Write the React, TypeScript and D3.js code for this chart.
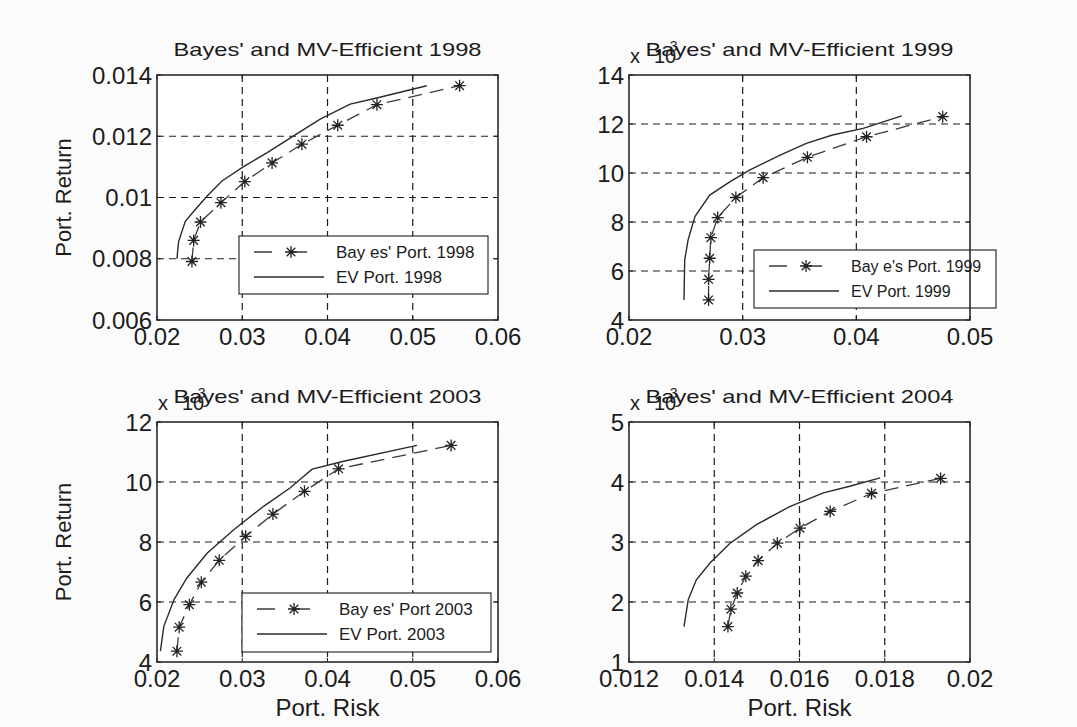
import React from "react";
import * as d3 from "d3";

// values (risk on x, return on y)
const bayes1998Risk = [0.0241, 0.0243, 0.0251, 0.0275, 0.0303, 0.0335, 0.037, 0.0412, 0.0458, 0.0555];
const bayes1998Ret = [0.00791, 0.0086, 0.0092, 0.00983, 0.01052, 0.01113, 0.01174, 0.01236, 0.01303, 0.01365];
const ev1998Risk = [0.02234, 0.02254, 0.02332, 0.02449, 0.02586, 0.02762, 0.03016, 0.03289, 0.03602, 0.03914, 0.04266, 0.04578, 0.05164];
const ev1998Ret = [0.008, 0.00857, 0.00922, 0.00961, 0.01004, 0.01054, 0.01101, 0.01146, 0.01201, 0.01256, 0.01305, 0.01325, 0.01365];

const bayes1999Risk = [0.027, 0.027, 0.0271, 0.0272, 0.0278, 0.0294, 0.0318, 0.0357, 0.0409, 0.0476];
const bayes1999Ret = [0.00482, 0.00566, 0.00652, 0.00736, 0.00818, 0.009, 0.00981, 0.01064, 0.01148, 0.0123];
const ev1999Risk = [0.02484, 0.0249, 0.0252, 0.0258, 0.0271, 0.0289, 0.0306, 0.0333, 0.0356, 0.0379, 0.0406, 0.044];
const ev1999Ret = [0.00482, 0.00645, 0.00727, 0.00822, 0.0091, 0.00965, 0.01012, 0.01073, 0.01121, 0.01155, 0.01182, 0.01233];

const bayes2003Risk = [0.02234, 0.0226, 0.0238, 0.0252, 0.0273, 0.0304, 0.0336, 0.0373, 0.0413, 0.0545];
const bayes2003Ret = [0.00436, 0.00516, 0.00591, 0.00666, 0.00739, 0.00819, 0.00893, 0.00969, 0.01044, 0.01122];
const ev2003Risk = [0.0204, 0.0208, 0.022, 0.0235, 0.0259, 0.029, 0.0325, 0.0356, 0.0382, 0.0419, 0.0505];
const ev2003Ret = [0.00436, 0.00519, 0.00608, 0.0068, 0.00763, 0.00841, 0.00919, 0.0098, 0.01043, 0.01069, 0.01122];

const bayes2004Risk = [0.01432, 0.01439, 0.01454, 0.01474, 0.01503, 0.01548, 0.01601, 0.01672, 0.01769, 0.01931];
const bayes2004Ret = [0.00159, 0.00188, 0.00215, 0.00243, 0.00269, 0.00298, 0.00323, 0.00351, 0.00381, 0.00406];
const ev2004Risk = [0.01329, 0.01339, 0.01358, 0.0139, 0.01437, 0.01499, 0.01577, 0.01656, 0.01718, 0.01789];
const ev2004Ret = [0.00159, 0.00204, 0.00237, 0.00265, 0.00298, 0.00329, 0.00359, 0.00382, 0.00393, 0.00407];

// tick values
const xTicksA = [0.02, 0.03, 0.04, 0.05, 0.06];
const xTicksB = [0.02, 0.03, 0.04, 0.05];
const xTicksD = [0.012, 0.014, 0.016, 0.018, 0.02];
const yTicks1998 = [0.006, 0.008, 0.01, 0.012, 0.014];
const yTicks1999 = [0.004, 0.006, 0.008, 0.01, 0.012, 0.014];
const yTicks2003 = [0.004, 0.006, 0.008, 0.01, 0.012];
const yTicks2004 = [0.001, 0.002, 0.003, 0.004, 0.005];

const FONT = "Liberation Sans, Arial, Helvetica, sans-serif";
const INK = "#1c1c1c";

function starPath(cx: number, cy: number, r: number) {
  const d = r * 0.72;
  return `M${cx - r},${cy}L${cx + r},${cy}M${cx},${cy - r}L${cx},${cy + r}` +
    `M${cx - d},${cy - d}L${cx + d},${cy + d}M${cx - d},${cy + d}L${cx + d},${cy - d}`;
}

interface PanelProps {
  left: number; top: number; width: number; height: number;
  title: string;
  xTicks: number[]; yTicks: number[];
  exp?: boolean;
  bRisk: number[]; bRet: number[]; eRisk: number[]; eRet: number[];
  yLabel?: boolean; xLabel?: boolean;
  legend?: { x: number; y: number; w: number; h: number; fs: number; bayes: string; ev: string };
}

const Panel: React.FC<PanelProps> = (p) => {
  const x = d3.scaleLinear().domain(d3.extent(p.xTicks) as [number, number]).range([p.left, p.left + p.width]);
  const y = d3.scaleLinear().domain(d3.extent(p.yTicks) as [number, number]).range([p.top + p.height, p.top]);
  const line = d3.line<[number, number]>().x((d) => x(d[0])).y((d) => y(d[1]));
  const bayes = p.bRisk.map((r, i) => [r, p.bRet[i]] as [number, number]);
  const ev = p.eRisk.map((r, i) => [r, p.eRet[i]] as [number, number]);
  const yFmt = (v: number) => (p.exp ? String(Math.round(v * 1000)) : String(+v.toFixed(3)));
  const L = p.legend;

  return (
    <g fontFamily={FONT} fill={INK}>
      <rect x={p.left} y={p.top} width={p.width} height={p.height} fill="#fff" />
      {/* grid */}
      <g stroke={INK} strokeWidth={1.2} strokeDasharray="7,5">
        {p.xTicks.slice(1, -1).map((t) => (
          <line key={"gx" + t} x1={x(t)} x2={x(t)} y1={p.top} y2={p.top + p.height} />
        ))}
        {p.yTicks.slice(1, -1).map((t) => (
          <line key={"gy" + t} x1={p.left} x2={p.left + p.width} y1={y(t)} y2={y(t)} />
        ))}
      </g>
      {/* EV frontier */}
      <path d={line(ev) || ""} fill="none" stroke="#2a2a2a" strokeWidth={1.4} />
      {/* Bayes frontier */}
      <path d={line(bayes) || ""} fill="none" stroke="#3a3a3a" strokeWidth={1.3} strokeDasharray="14,8" />
      {bayes.map((d, i) => (
        <path key={"s" + i} d={starPath(x(d[0]), y(d[1]), 6)} stroke="#222" strokeWidth={1.3} fill="none" />
      ))}
      {/* legend */}
      {L && (
        <g>
          <rect x={L.x} y={L.y} width={L.w} height={L.h} fill="#fff" stroke={INK} strokeWidth={1.1} />
          <line x1={L.x + 15} x2={L.x + 85} y1={L.y + 16} y2={L.y + 16} stroke="#3a3a3a" strokeWidth={1.3} strokeDasharray="18,17" />
          <path d={starPath(L.x + 52, L.y + 16, 6)} stroke="#222" strokeWidth={1.3} />
          <text x={L.x + 97} y={L.y + 16} dy="0.35em" fontSize={L.fs}>{L.bayes}</text>
          <line x1={L.x + 15} x2={L.x + 85} y1={L.y + 41} y2={L.y + 41} stroke="#2a2a2a" strokeWidth={1.3} />
          <text x={L.x + 97} y={L.y + 41} dy="0.35em" fontSize={L.fs}>{L.ev}</text>
        </g>
      )}
      {/* frame */}
      <rect x={p.left} y={p.top} width={p.width} height={p.height} fill="none" stroke={INK} strokeWidth={1.5} />
      {/* ticks */}
      <g stroke={INK} strokeWidth={1}>
        {p.xTicks.map((t) => (
          <g key={"tx" + t}>
            <line x1={x(t)} x2={x(t)} y1={p.top + p.height} y2={p.top + p.height - 4} />
            <line x1={x(t)} x2={x(t)} y1={p.top} y2={p.top + 4} />
          </g>
        ))}
        {p.yTicks.map((t) => (
          <g key={"ty" + t}>
            <line x1={p.left} x2={p.left + 4} y1={y(t)} y2={y(t)} />
            <line x1={p.left + p.width} x2={p.left + p.width - 4} y1={y(t)} y2={y(t)} />
          </g>
        ))}
      </g>
      <g fontSize={24}>
        {p.xTicks.map((t) => (
          <text key={"lx" + t} x={x(t)} y={p.top + p.height + 25} textAnchor="middle">{String(t)}</text>
        ))}
        {p.yTicks.map((t) => (
          <text key={"ly" + t} x={p.left - 5} y={y(t)} dy="0.36em" textAnchor="end">{yFmt(t)}</text>
        ))}
      </g>
      {p.exp && (
        <g>
          <text x={p.left + 1} y={p.top - 12} fontSize={20}>x</text>
          <text x={p.left + 25} y={p.top - 12} fontSize={20}>10</text>
          <text x={p.left + 36} y={p.top - 24} fontSize={14}>-3</text>
        </g>
      )}
      <text x={p.left + p.width / 2} y={p.top - 19} textAnchor="middle" fontSize={19} textLength={308} lengthAdjust="spacingAndGlyphs">
        {p.title}
      </text>
      {p.yLabel && (
        <text transform={`translate(${p.left - 86},${p.top + p.height / 2}) rotate(-90)`} textAnchor="middle" fontSize={22}>
          Port. Return
        </text>
      )}
      {p.xLabel && (
        <text x={p.left + p.width / 2} y={p.top + p.height + 54} textAnchor="middle" fontSize={24}>
          Port. Risk
        </text>
      )}
    </g>
  );
};

export default function App() {
  return (
    <svg width={1077} height={727} style={{ position: "absolute", left: 0, top: 0, background: "#fff" }}>
      <rect width={1077} height={727} fill="#fbfbfb" />
      <Panel left={157} top={75} width={341} height={245} title="Bayes' and MV-Efficient 1998"
        xTicks={xTicksA} yTicks={yTicks1998} bRisk={bayes1998Risk} bRet={bayes1998Ret}
        eRisk={ev1998Risk} eRet={ev1998Ret} yLabel
        legend={{ x: 239, y: 236, w: 249, h: 58, fs: 17, bayes: "Bay es' Port. 1998", ev: "EV Port. 1998" }} />
      <Panel left={629} top={75} width={341} height={245} title="Bayes' and MV-Efficient 1999"
        xTicks={xTicksB} yTicks={yTicks1999} exp bRisk={bayes1999Risk} bRet={bayes1999Ret}
        eRisk={ev1999Risk} eRet={ev1999Ret}
        legend={{ x: 754, y: 250, w: 242, h: 58, fs: 16, bayes: "Bay e's Port. 1999", ev: "EV Port. 1999" }} />
      <Panel left={157} top={422} width={341} height={240} title="Bayes' and MV-Efficient 2003"
        xTicks={xTicksA} yTicks={yTicks2003} exp bRisk={bayes2003Risk} bRet={bayes2003Ret}
        eRisk={ev2003Risk} eRet={ev2003Ret} yLabel xLabel
        legend={{ x: 242, y: 593, w: 249, h: 59, fs: 17, bayes: "Bay es' Port 2003", ev: "EV Port. 2003" }} />
      <Panel left={629} top={422} width={341} height={240} title="Bayes' and MV-Efficient 2004"
        xTicks={xTicksD} yTicks={yTicks2004} exp bRisk={bayes2004Risk} bRet={bayes2004Ret}
        eRisk={ev2004Risk} eRet={ev2004Ret} xLabel />
    </svg>
  );
}
